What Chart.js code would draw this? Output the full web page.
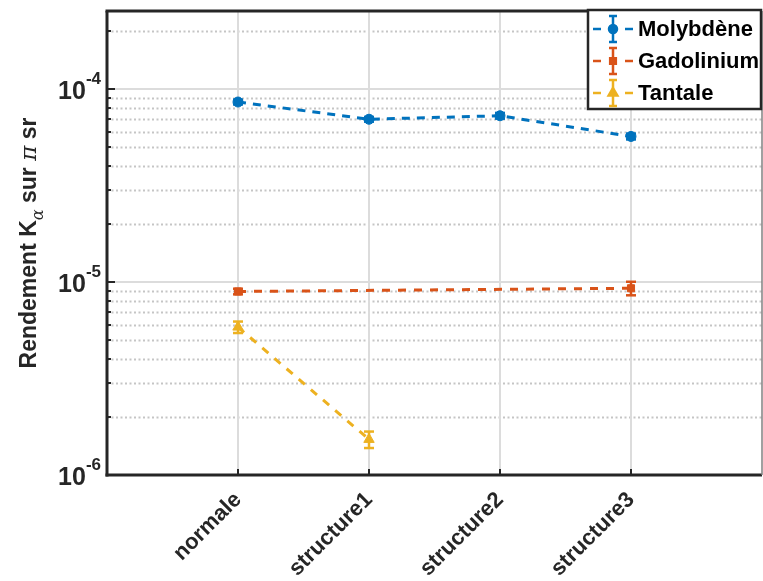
<!DOCTYPE html>
<html>
<head>
<meta charset="utf-8">
<script src="https://cdn.jsdelivr.net/npm/chart.js@4.4.0/dist/chart.umd.min.js"></script>
<style>
html, body { margin: 0; padding: 0; background: #fff; }
canvas { display: block; }
</style>
</head>
<body>
<canvas id="chart" width="763" height="581"></canvas>
<script>
// categories on the x axis (positions 1..4)
var categories = ['normale', 'structure1', 'structure2', 'structure3'];

// Molybdène
var moX = [1, 2, 3, 4];
var moY = [8.6e-5, 7.0e-5, 7.3e-5, 5.7e-5];
var moErr = [2.5e-6, 2.0e-6, 2.5e-6, 2.0e-6];
// Gadolinium
var gdX = [1, 4];
var gdY = [8.95e-6, 9.3e-6];
var gdErr = [0.3e-6, 0.75e-6];
// Tantale
var taX = [1, 2];
var taY = [5.85e-6, 1.53e-6];
var taErr = [0.4e-6, 0.15e-6];

var yTicks = [1e-6, 1e-5, 1e-4];
var yTickExp = ['-6', '-5', '-4'];
var yMin = 1e-6, yMax = 2.55e-4;

var BLUE = '#0072BD', RED = '#D95319', YEL = '#EDB120';
var FONT = '"Liberation Sans", Arial, Helvetica, sans-serif';

function pts(xs, ys, es) {
	var out = [];
	for (var i = 0; i < xs.length; i++) out.push({x: xs[i], y: ys[i], err: es[i]});
	return out;
}

function hline(ctx, x1, x2, y) { ctx.beginPath(); ctx.moveTo(x1, y); ctx.lineTo(x2, y); ctx.stroke(); }
function vline(ctx, x, y1, y2) { ctx.beginPath(); ctx.moveTo(x, y1); ctx.lineTo(x, y2); ctx.stroke(); }

var matlabLook = {
	id: 'matlabLook',
	beforeDatasetsDraw: function(chart) {
		var ctx = chart.ctx, a = chart.chartArea, xs = chart.scales.x, ys = chart.scales.y;
		ctx.save();
		// minor grid (dotted)
		ctx.strokeStyle = 'rgba(140,140,140,0.5)';
		ctx.lineWidth = 2;
		ctx.setLineDash([2, 2.5]);
		for (var d = -6; d <= -4; d++) {
			for (var m = 2; m <= 9; m++) {
				var v = m * Math.pow(10, d);
				if (v >= yMax) continue;
				hline(ctx, a.left, a.right, Math.round(ys.getPixelForValue(v)) + 0.5);
			}
		}
		ctx.setLineDash([]);
		// major grid
		ctx.strokeStyle = '#dcdcdc';
		ctx.lineWidth = 2;
		yTicks.forEach(function(v) {
			if (v > yMin) hline(ctx, a.left, a.right, Math.round(ys.getPixelForValue(v)));
		});
		for (var i = 1; i <= categories.length; i++) {
			vline(ctx, Math.round(xs.getPixelForValue(i)), a.top, a.bottom);
		}
		// error bars
		chart.data.datasets.forEach(function(ds) {
			ctx.strokeStyle = ds.borderColor;
			ctx.lineWidth = 2.5;
			ds.data.forEach(function(p) {
				var px = xs.getPixelForValue(p.x);
				var t = ys.getPixelForValue(p.y + p.err), b = ys.getPixelForValue(p.y - p.err);
				vline(ctx, px, t, b);
				hline(ctx, px - 5, px + 5, t);
				hline(ctx, px - 5, px + 5, b);
			});
		});
		ctx.restore();
	},
	afterDatasetsDraw: function(chart) {
		var ctx = chart.ctx, a = chart.chartArea, xs = chart.scales.x, ys = chart.scales.y;
		ctx.save();
		// axes box
		ctx.strokeStyle = '#262626';
		ctx.lineWidth = 3;
		hline(ctx, a.left - 1.5, a.right, a.bottom);
		hline(ctx, a.left - 1.5, a.right, a.top);
		vline(ctx, a.left, a.top, a.bottom + 1.5);
		ctx.strokeStyle = '#808080';
		ctx.lineWidth = 1.5;
		vline(ctx, a.right, a.top, a.bottom);
		// y ticks (inside)
		ctx.strokeStyle = '#262626';
		ctx.lineWidth = 2;
		for (var d = -6; d <= -4; d++) {
			for (var m = 1; m <= 9; m++) {
				var v = m * Math.pow(10, d);
				if (v >= yMax) continue;
				var py = Math.round(ys.getPixelForValue(v));
				hline(ctx, a.left, a.left + (m === 1 ? 8 : 4), py);
			}
		}
		// x ticks (inside)
		for (var i = 1; i <= categories.length; i++) {
			vline(ctx, Math.round(xs.getPixelForValue(i)), a.bottom, a.bottom - 6);
		}
		// legend
		var lx = 588, ly = 10, lw = 173, lh = 99;
		ctx.fillStyle = '#fff';
		ctx.fillRect(lx, ly, lw, lh);
		ctx.strokeStyle = '#262626';
		ctx.lineWidth = 2.5;
		ctx.strokeRect(lx, ly, lw, lh);
		chart.data.datasets.forEach(function(ds, k) {
			var cy = 29 + k * 32;
			ctx.strokeStyle = ds.borderColor;
			ctx.fillStyle = ds.borderColor;
			ctx.lineWidth = 2.5;
			hline(ctx, 593, 601, cy);
			hline(ctx, 625, 633, cy);
			vline(ctx, 613, cy - 13, cy + 13);
			hline(ctx, 609, 617, cy - 13);
			hline(ctx, 609, 617, cy + 13);
			Chart.helpers.drawPoint(ctx, {pointStyle: ds.pointStyle, radius: ds.pointRadius - 1, borderWidth: 1}, 613, cy);
			ctx.fill();
			ctx.fillStyle = '#000';
			ctx.font = 'bold 22px ' + FONT;
			ctx.textBaseline = 'middle';
			ctx.textAlign = 'left';
			ctx.fillText(ds.label, 638, cy + 1);
		});
		ctx.restore();
	},
	afterDraw: function(chart) {
		var ctx = chart.ctx, a = chart.chartArea, ys = chart.scales.y;
		ctx.save();
		ctx.fillStyle = '#262626';
		// y tick labels 10^n
		yTicks.forEach(function(v, i) {
			var py = ys.getPixelForValue(v);
			ctx.font = 'bold 17px ' + FONT;
			ctx.textAlign = 'right';
			ctx.textBaseline = 'alphabetic';
			var ew = ctx.measureText(yTickExp[i]).width;
			ctx.fillText(yTickExp[i], 101, py - 5);
			ctx.font = 'bold 25px ' + FONT;
			ctx.fillText('10', 101 - ew, py + 10);
		});
		// y axis title with subscript alpha
		ctx.translate(36, (a.top + a.bottom) / 2);
		ctx.rotate(-Math.PI / 2);
		var parts = [
			{t: 'Rendement K', f: 'bold 23px ' + FONT, dy: 0},
			{t: '\u03b1', f: 'italic 16px "DejaVu Serif", serif', dy: 7},
			{t: ' sur ', f: 'bold 23px ' + FONT, dy: 0},
			{t: '\u03c0', f: 'italic 23px "DejaVu Serif", serif', dy: 0},
			{t: ' sr', f: 'bold 23px ' + FONT, dy: 0}
		];
		var total = 0;
		parts.forEach(function(p) { ctx.font = p.f; p.w = ctx.measureText(p.t).width; total += p.w; });
		var x0 = -total / 2;
		ctx.textAlign = 'left';
		ctx.textBaseline = 'alphabetic';
		parts.forEach(function(p) {
			ctx.font = p.f;
			ctx.fillText(p.t, x0, p.dy);
			x0 += p.w;
		});
		ctx.restore();
	}
};

var ctx = document.getElementById('chart').getContext('2d');
var chart = new Chart(ctx, {
	type: 'line',
	data: {
		datasets: [{
			label: 'Molybdène',
			data: pts(moX, moY, moErr),
			borderColor: BLUE,
			backgroundColor: BLUE,
			borderWidth: 3,
			borderDash: [8, 7],
			pointStyle: 'circle',
			pointRadius: 5,
			pointBorderWidth: 1
		}, {
			label: 'Gadolinium',
			data: pts(gdX, gdY, gdErr),
			borderColor: RED,
			backgroundColor: RED,
			borderWidth: 3,
			borderDash: [8, 8],
			pointStyle: 'rect',
			pointRadius: 5,
			pointBorderWidth: 1
		}, {
			label: 'Tantale',
			data: pts(taX, taY, taErr),
			borderColor: YEL,
			backgroundColor: YEL,
			borderWidth: 3,
			borderDash: [8, 8],
			pointStyle: 'triangle',
			pointRadius: 6,
			pointBorderWidth: 1
		}]
	},
	options: {
		responsive: false,
		animation: false,
		layout: { autoPadding: false, padding: { top: 11, right: 1, left: 0, bottom: 0 } },
		plugins: { legend: { display: false }, tooltip: { enabled: false } },
		scales: {
			x: {
				type: 'linear',
				min: 0,
				max: 5,
				grid: { display: false },
				border: { display: false },
				afterFit: function(s) { s.height = 106; s.paddingLeft = 0; s.paddingRight = 0; },
				afterBuildTicks: function(s) {
					s.ticks = [0, 1, 2, 3, 4, 5].map(function(v) { return {value: v}; });
				},
				ticks: {
					autoSkip: false,
					minRotation: 45,
					maxRotation: 45,
					padding: 4,
					color: '#262626',
					font: { family: FONT, size: 22, weight: 'bold' },
					callback: function(v) { return categories[v - 1] || ''; }
				}
			},
			y: {
				type: 'logarithmic',
				min: yMin,
				max: yMax,
				grid: { display: false },
				border: { display: false },
				ticks: { display: false },
				afterFit: function(s) { s.width = 107; }
			}
		}
	},
	plugins: [matlabLook]
});
</script>
</body>
</html>
